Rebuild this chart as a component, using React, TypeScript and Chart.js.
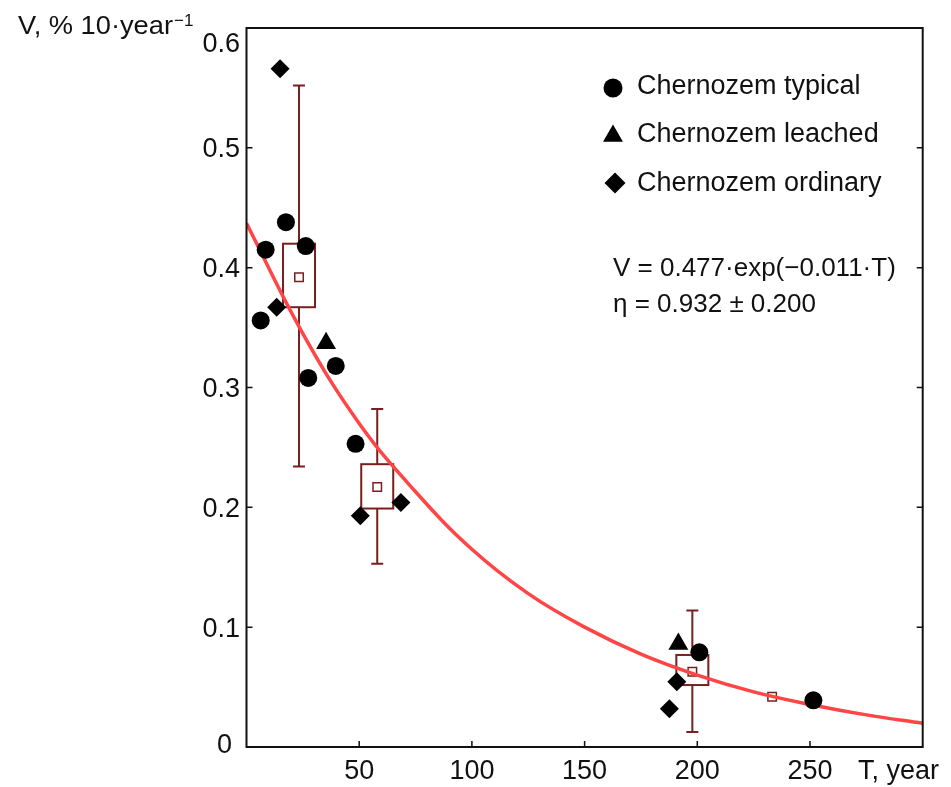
import React, { useEffect, useRef } from 'react';
import { Chart, registerables } from 'chart.js';

Chart.register(...registerables);

// ---- data ----
const typicalT = [6.3, 8.5, 17.5, 26.3, 27.4, 39.6, 48.4, 200.9, 251.5];
const typicalV = [0.356, 0.415, 0.438, 0.418, 0.308, 0.318, 0.253, 0.079, 0.039];

const leachedT = [35.3, 191.6];
const leachedV = [0.337, 0.086];

const ordinaryT = [14.9, 13.4, 50.5, 68.5, 190.9, 187.6];
const ordinaryV = [0.566, 0.367, 0.193, 0.204, 0.0545, 0.032];

const boxT = [23.3, 58.0, 197.8];
const boxMean = [0.392, 0.217, 0.0628];
const boxLow = [0.367, 0.199, 0.0517];
const boxHigh = [0.42, 0.236, 0.0768];
const whiskerLow = [0.234, 0.153, 0.0125];
const whiskerHigh = [0.552, 0.282, 0.114];

const extraMeanT = [233.2];
const extraMeanV = [0.042];

// fitted curve
const fitT = [0, 25, 50, 75, 100, 125, 150, 175, 200, 225, 250, 275, 300];
const fitV = [0.437, 0.345, 0.27, 0.213, 0.165, 0.128, 0.1, 0.0775, 0.06, 0.046, 0.0355, 0.0268, 0.0198];

const xTicks = [50, 100, 150, 200, 250];
const xTickLabels = ['50', '100', '150', '200', '250'];
const yTicks = [0, 0.1, 0.2, 0.3, 0.4, 0.5, 0.6];
const yTickLabels = ['0', '0.1', '0.2', '0.3', '0.4', '0.5', '0.6'];

const legendLabels = ['Chernozem typical', 'Chernozem leached', 'Chernozem ordinary'];
const equationLines = ['V = 0.477·exp(−0.011·T)', 'η = 0.932 ± 0.200'];
const yTitle = 'V, % 10·year';
const yTitleSup = '−1';
const xTitle = 'T, year';

// ---- styles ----
const FONT = '"Liberation Sans", Arial, sans-serif';
const BOX_COLOR = '#7a1f1f';
const FIT_COLOR = '#ff4545';

if (typeof document !== 'undefined') {
  document.body.style.margin = '0';
  document.body.style.overflow = 'hidden';
}

const toPts = (xs: number[], ys: number[]) => xs.map((x, i) => ({ x, y: ys[i] }));

function drawMarker(ctx: CanvasRenderingContext2D, style: string, x: number, y: number, r: number) {
  ctx.beginPath();
  if (style === 'circle') {
    ctx.arc(x, y, r, 0, Math.PI * 2);
  } else if (style === 'triangle') {
    ctx.moveTo(x, y - r);
    ctx.lineTo(x + r * Math.sin(Math.PI * 2 / 3), y + r / 2);
    ctx.lineTo(x - r * Math.sin(Math.PI * 2 / 3), y + r / 2);
    ctx.closePath();
  } else {
    ctx.moveTo(x - r, y);
    ctx.lineTo(x, y - r);
    ctx.lineTo(x + r, y);
    ctx.lineTo(x, y + r);
    ctx.closePath();
  }
  ctx.fillStyle = '#000';
  ctx.fill();
}

const boxPlugin = {
  id: 'boxPlot',
  beforeDatasetsDraw(chart: any) {
    const { ctx, scales } = chart;
    const xs = scales.x, ys = scales.y;
    ctx.save();
    ctx.strokeStyle = BOX_COLOR;
    ctx.lineWidth = 2;
    boxT.forEach((t, i) => {
      const x = xs.getPixelForValue(t);
      const wl = ys.getPixelForValue(whiskerLow[i]);
      const wh = ys.getPixelForValue(whiskerHigh[i]);
      const bl = ys.getPixelForValue(boxLow[i]);
      const bh = ys.getPixelForValue(boxHigh[i]);
      ctx.beginPath();
      ctx.moveTo(x, wl);
      ctx.lineTo(x, wh);
      ctx.moveTo(x - 6, wl);
      ctx.lineTo(x + 6, wl);
      ctx.moveTo(x - 6, wh);
      ctx.lineTo(x + 6, wh);
      ctx.stroke();
      ctx.fillStyle = '#fff';
      ctx.fillRect(x - 16, bh, 32, bl - bh);
      ctx.strokeRect(x - 16, bh, 32, bl - bh);
    });
    ctx.restore();
  },
};

const decorPlugin = {
  id: 'decor',
  afterDraw(chart: any) {
    const { ctx, chartArea, scales } = chart;
    const xs = scales.x, ys = scales.y;
    const { left, right, top, bottom } = chartArea;
    ctx.save();
    // frame
    ctx.strokeStyle = '#111';
    ctx.lineWidth = 2;
    ctx.strokeRect(left, top, right - left, bottom - top);
    // inward ticks
    ctx.lineWidth = 1.5;
    ctx.beginPath();
    yTicks.forEach((v) => {
      const y = ys.getPixelForValue(v);
      ctx.moveTo(left, y);
      ctx.lineTo(left + 6, y);
      ctx.moveTo(right, y);
      ctx.lineTo(right - 6, y);
    });
    xTicks.forEach((t) => {
      const x = xs.getPixelForValue(t);
      ctx.moveTo(x, bottom);
      ctx.lineTo(x, bottom - 6);
    });
    ctx.stroke();

    ctx.fillStyle = '#111';
    ctx.font = `27px ${FONT}`;
    ctx.textBaseline = 'alphabetic';
    // y tick labels
    ctx.textAlign = 'right';
    yTicks.forEach((v, i) => {
      let y = ys.getPixelForValue(v) + 9.5;
      let x = left - 6.5;
      if (v === 0.6) y += 14;
      if (v === 0) { y -= 4; x -= 8; }
      ctx.fillText(yTickLabels[i], x, y);
    });
    // x tick labels
    ctx.textAlign = 'center';
    xTicks.forEach((t, i) => {
      ctx.fillText(xTickLabels[i], xs.getPixelForValue(t), bottom + 32);
    });
    ctx.textAlign = 'left';
    ctx.fillText(xTitle, right - 64.7, bottom + 32);

    // y title
    ctx.font = `25px ${FONT}`;
    const w = ctx.measureText(yTitle).width;
    ctx.save();
    ctx.translate(18, 34);
    ctx.scale(155 / w, 1);
    ctx.fillText(yTitle, 0, 0);
    ctx.restore();
    ctx.font = `17px ${FONT}`;
    ctx.fillText(yTitleSup, 174, 26);

    // legend
    const legendMarkers = ['circle', 'triangle', 'diamond'];
    const markerPos = [[613, 88, 9.5], [613, 136, 11.5], [615, 183, 10.5]];
    const textBase = [93.5, 142, 190.5];
    ctx.font = `27px ${FONT}`;
    legendLabels.forEach((lab, i) => {
      const [mx, my, mr] = markerPos[i];
      drawMarker(ctx, legendMarkers[i], mx, my, mr);
      ctx.fillStyle = '#111';
      ctx.fillText(lab, 637, textBase[i]);
    });

    // equation
    ctx.font = `26px ${FONT}`;
    ctx.fillText(equationLines[0], 613, 276);
    ctx.fillText(equationLines[1], 613, 312);
    ctx.restore();
  },
};

export default function App() {
  const ref = useRef<HTMLCanvasElement | null>(null);
  useEffect(() => {
    if (!ref.current) return;
    const chart = new Chart(ref.current, {
      type: 'scatter',
      data: {
        datasets: [
          {
            label: legendLabels[0],
            data: toPts(typicalT, typicalV),
            pointStyle: 'circle',
            pointRadius: 9,
            backgroundColor: '#000',
            borderColor: '#000',
            borderWidth: 0,
            order: 0,
          },
          {
            label: legendLabels[1],
            data: toPts(leachedT, leachedV),
            pointStyle: 'triangle',
            pointRadius: 11.5,
            backgroundColor: '#000',
            borderColor: '#000',
            borderWidth: 0,
            order: 0,
          },
          {
            label: legendLabels[2],
            data: toPts(ordinaryT, ordinaryV),
            pointStyle: 'rectRot',
            pointRadius: 9.5,
            backgroundColor: '#000',
            borderColor: '#000',
            borderWidth: 0,
            order: 0,
          },
          {
            type: 'line',
            label: 'fit',
            data: toPts(fitT, fitV),
            borderColor: FIT_COLOR,
            borderWidth: 3.5,
            pointRadius: 0,
            fill: false,
            tension: 0.4,
            order: 1,
          } as any,
          {
            label: 'mean',
            data: [...toPts(boxT, boxMean), ...toPts(extraMeanT, extraMeanV)],
            pointStyle: 'rect',
            pointRadius: 6,
            backgroundColor: '#fff',
            borderColor: BOX_COLOR,
            borderWidth: 1.5,
            order: 2,
          },
        ],
      },
      options: {
        animation: false,
        responsive: false,
        layout: { padding: { left: 246.5, right: 28.3, top: 28, bottom: 40 } },
        scales: {
          x: { type: 'linear', min: 0, max: 300, display: false },
          y: { type: 'linear', min: 0, max: 0.6, display: false },
        },
        plugins: { legend: { display: false }, tooltip: { enabled: false } },
        events: [],
      },
      plugins: [boxPlugin, decorPlugin],
    });
    return () => chart.destroy();
  }, []);
  return (
    <div style={{ width: 951, height: 787 }}>
      <canvas ref={ref} width={951} height={787} style={{ display: 'block' }} />
    </div>
  );
}
